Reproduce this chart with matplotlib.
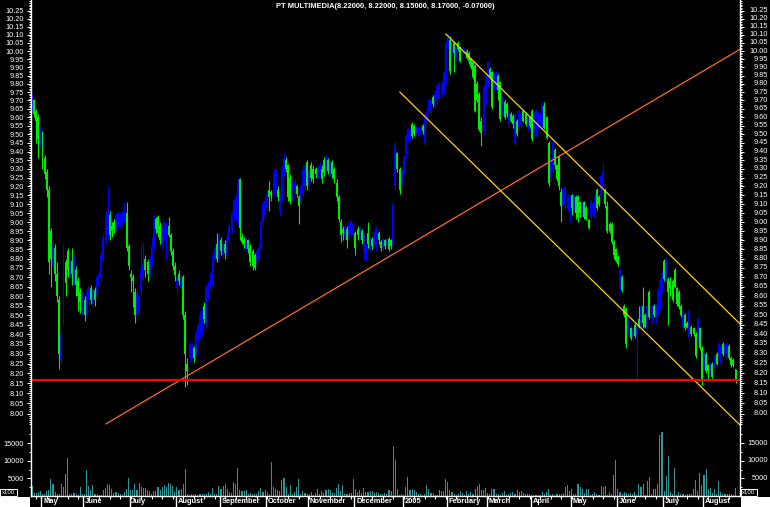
import matplotlib
matplotlib.use("Agg")
import matplotlib.pyplot as plt
from matplotlib.patches import Rectangle
from matplotlib.ticker import FixedLocator, NullFormatter, FuncFormatter
import numpy as np

# daily OHLC, May 2004 - Aug 2005
opens = [
    9.66, 9.70, 9.64, 9.60, 9.44, 9.50, 9.36, 9.28, 9.18, 8.95,
    8.76, 8.86, 8.72, 8.58, 8.27, 8.50, 8.78, 8.84, 8.72, 8.79,
    8.68, 8.74, 8.68, 8.62, 8.52, 8.58, 8.50, 8.58, 8.64, 8.56,
    8.63, 8.60, 8.66, 8.70, 8.80, 8.90, 8.95, 9.04, 8.98, 9.00,
    8.97, 9.00, 9.00, 9.00, 9.01, 9.05, 8.87, 8.72, 8.70, 8.62,
    8.50, 8.52, 8.62, 8.70, 8.80, 8.78, 8.72, 8.78, 8.87, 9.02,
    9.03, 8.98, 8.88, 8.92, 8.92, 8.98, 8.93, 8.84, 8.76, 8.64,
    8.72, 8.64, 8.70, 8.50, 8.25, 8.28, 8.30, 8.33, 8.30, 8.38,
    8.40, 8.42, 8.55, 8.46, 8.60, 8.64, 8.66, 8.80, 8.88, 8.80,
    8.90, 8.82, 8.88, 8.82, 8.90, 8.96, 9.04, 9.08, 9.00, 9.24,
    8.92, 8.90, 8.86, 8.90, 8.86, 8.84, 8.82, 8.77, 8.80, 8.85,
    9.00, 9.04, 9.08, 9.18, 9.17, 9.16, 9.20, 9.18, 9.06, 9.14,
    9.28, 9.35, 9.32, 9.25, 9.14, 9.18, 9.20, 9.14, 9.12, 9.16,
    9.20, 9.34, 9.20, 9.32, 9.30, 9.30, 9.26, 9.28, 9.30, 9.35,
    9.30, 9.35, 9.28, 9.34, 9.30, 9.22, 9.14, 9.00, 8.96, 8.92,
    8.96, 8.92, 8.94, 8.93, 8.94, 8.96, 8.93, 8.95, 8.84, 8.82,
    8.94, 8.86, 8.91, 8.90, 8.86, 8.94, 8.89, 8.86, 8.90, 8.87,
    8.91, 8.90, 8.87, 9.20, 9.39, 9.30, 9.22, 9.29, 9.39, 9.48,
    9.48, 9.56, 9.55, 9.51, 9.51, 9.51, 9.55, 9.45, 9.58, 9.64,
    9.64, 9.72, 9.67, 9.70, 9.72, 9.74, 9.76, 9.82, 10.05, 10.07,
    9.99, 10.05, 9.96, 10.05, 10.02, 9.99, 9.98, 10.00, 9.99, 9.95,
    9.93, 9.91, 9.80, 9.74, 9.58, 9.52, 9.70, 9.80, 9.89, 9.87,
    9.78, 9.78, 9.85, 9.81, 9.63, 9.69, 9.68, 9.56, 9.62, 9.61,
    9.45, 9.58, 9.54, 9.55, 9.64, 9.62, 9.54, 9.60, 9.64, 9.51,
    9.51, 9.56, 9.56, 9.55, 9.67, 9.60, 9.45, 9.25, 9.29, 9.41,
    9.32, 9.37, 9.17, 9.09, 9.09, 9.08, 9.07, 9.15, 9.08, 9.14,
    9.14, 9.11, 9.05, 9.11, 9.08, 9.01, 9.03, 9.05, 9.03, 9.18,
    9.14, 9.15, 9.18, 9.18, 9.09, 8.99, 8.99, 8.89, 8.85, 8.81,
    8.64, 8.70, 8.55, 8.53, 8.41, 8.43, 8.38, 8.45, 8.39, 8.48,
    8.44, 8.55, 8.50, 8.44, 8.62, 8.48, 8.55, 8.48, 8.52, 8.55,
    8.64, 8.79, 8.70, 8.69, 8.68, 8.68, 8.74, 8.64, 8.62, 8.55,
    8.43, 8.50, 8.46, 8.38, 8.44, 8.43, 8.40, 8.38, 8.43, 8.33,
    8.24, 8.30, 8.24, 8.21, 8.25, 8.23, 8.30, 8.29, 8.25, 8.35,
    8.30, 8.29, 8.34, 8.28, 8.27, 8.22,
]
highs = [
    9.74, 9.71, 9.65, 9.62, 9.55, 9.52, 9.38, 9.30, 9.20, 8.97,
    8.90, 8.88, 8.78, 8.60, 8.42, 8.88, 8.80, 8.86, 8.80, 8.86,
    8.82, 8.76, 8.70, 8.64, 8.62, 8.60, 8.64, 8.66, 8.66, 8.64,
    8.65, 8.71, 8.74, 8.84, 8.94, 9.06, 9.20, 9.06, 9.00, 9.02,
    9.05, 9.06, 9.05, 9.06, 9.11, 9.11, 8.88, 8.74, 8.72, 8.64,
    8.64, 8.62, 8.88, 8.89, 8.82, 8.80, 8.82, 8.92, 9.04, 9.03,
    9.04, 9.00, 8.98, 9.01, 9.00, 9.03, 8.94, 8.86, 8.78, 8.71,
    8.74, 8.72, 8.71, 8.52, 8.28, 8.36, 8.35, 8.34, 8.42, 8.46,
    8.52, 8.54, 8.57, 8.66, 8.68, 8.74, 8.84, 8.88, 8.94, 8.94,
    8.92, 8.90, 8.90, 8.94, 9.00, 9.06, 9.13, 9.16, 9.25, 9.25,
    8.94, 8.92, 8.92, 8.91, 8.88, 8.85, 8.83, 8.86, 8.88, 9.02,
    9.12, 9.14, 9.18, 9.23, 9.18, 9.30, 9.30, 9.20, 9.16, 9.32,
    9.39, 9.37, 9.33, 9.27, 9.24, 9.24, 9.21, 9.15, 9.22, 9.32,
    9.34, 9.35, 9.30, 9.34, 9.32, 9.31, 9.32, 9.34, 9.32, 9.37,
    9.38, 9.36, 9.34, 9.35, 9.31, 9.24, 9.15, 9.02, 8.98, 9.00,
    8.98, 9.01, 9.02, 9.00, 8.95, 8.98, 8.98, 8.96, 8.94, 8.88,
    9.00, 8.92, 8.92, 8.95, 8.98, 8.95, 8.90, 8.92, 8.91, 8.92,
    8.92, 8.91, 9.12, 9.46, 9.40, 9.31, 9.30, 9.38, 9.50, 9.54,
    9.54, 9.57, 9.56, 9.55, 9.55, 9.56, 9.56, 9.63, 9.66, 9.71,
    9.71, 9.73, 9.76, 9.80, 9.81, 9.82, 9.88, 10.06, 10.11, 10.09,
    10.03, 10.06, 10.03, 10.06, 10.03, 10.03, 10.02, 10.01, 10.00, 9.96,
    9.94, 9.92, 9.82, 9.75, 9.60, 9.79, 9.86, 9.94, 9.90, 9.88,
    9.88, 9.88, 9.86, 9.82, 9.73, 9.70, 9.69, 9.65, 9.63, 9.62,
    9.63, 9.59, 9.65, 9.64, 9.65, 9.63, 9.61, 9.61, 9.65, 9.63,
    9.65, 9.63, 9.63, 9.69, 9.69, 9.61, 9.46, 9.36, 9.47, 9.42,
    9.33, 9.38, 9.19, 9.20, 9.20, 9.16, 9.15, 9.16, 9.16, 9.15,
    9.15, 9.12, 9.12, 9.12, 9.09, 9.02, 9.13, 9.12, 9.16, 9.19,
    9.15, 9.27, 9.34, 9.19, 9.12, 9.00, 9.00, 8.90, 8.86, 8.82,
    8.75, 8.71, 8.56, 8.54, 8.48, 8.44, 8.44, 8.46, 8.46, 8.55,
    8.56, 8.65, 8.51, 8.56, 8.63, 8.56, 8.56, 8.56, 8.64, 8.69,
    8.74, 8.80, 8.81, 8.70, 8.70, 8.69, 8.75, 8.65, 8.63, 8.56,
    8.53, 8.51, 8.47, 8.53, 8.45, 8.44, 8.41, 8.49, 8.44, 8.34,
    8.31, 8.31, 8.25, 8.26, 8.26, 8.30, 8.31, 8.36, 8.35, 8.36,
    8.36, 8.36, 8.35, 8.29, 8.28, 8.22,
]
lows = [
    9.64, 9.60, 9.45, 9.36, 9.42, 9.30, 9.24, 9.14, 8.72, 8.65,
    8.74, 8.68, 8.57, 8.22, 8.25, 8.45, 8.60, 8.70, 8.70, 8.66,
    8.66, 8.60, 8.52, 8.51, 8.50, 8.47, 8.48, 8.55, 8.56, 8.54,
    8.55, 8.58, 8.64, 8.68, 8.78, 8.88, 8.92, 8.90, 8.92, 8.94,
    8.95, 8.98, 8.97, 8.99, 9.00, 8.84, 8.74, 8.62, 8.54, 8.46,
    8.47, 8.50, 8.60, 8.68, 8.70, 8.68, 8.70, 8.76, 8.85, 8.94,
    8.92, 8.88, 8.86, 8.90, 8.80, 8.92, 8.82, 8.74, 8.68, 8.62,
    8.66, 8.62, 8.48, 8.13, 8.14, 8.26, 8.28, 8.26, 8.29, 8.36,
    8.38, 8.40, 8.46, 8.44, 8.58, 8.62, 8.64, 8.78, 8.78, 8.78,
    8.82, 8.80, 8.80, 8.80, 8.88, 8.94, 9.02, 9.00, 8.98, 8.90,
    8.88, 8.86, 8.84, 8.83, 8.76, 8.74, 8.74, 8.75, 8.78, 8.84,
    8.98, 9.02, 9.06, 9.06, 9.12, 9.14, 9.18, 9.12, 9.04, 9.12,
    9.26, 9.28, 9.12, 9.10, 9.12, 9.16, 9.14, 8.99, 9.10, 9.14,
    9.18, 9.18, 9.18, 9.23, 9.22, 9.25, 9.24, 9.26, 9.22, 9.26,
    9.28, 9.27, 9.26, 9.25, 9.22, 9.12, 9.00, 8.89, 8.90, 8.90,
    8.86, 8.90, 8.92, 8.91, 8.82, 8.90, 8.91, 8.88, 8.80, 8.79,
    8.86, 8.84, 8.85, 8.88, 8.84, 8.88, 8.84, 8.84, 8.85, 8.85,
    8.84, 8.85, 8.86, 9.18, 9.28, 9.16, 9.20, 9.27, 9.37, 9.46,
    9.46, 9.48, 9.49, 9.50, 9.49, 9.50, 9.50, 9.44, 9.56, 9.62,
    9.62, 9.66, 9.65, 9.68, 9.70, 9.72, 9.74, 9.80, 10.02, 9.86,
    9.97, 9.87, 9.94, 10.00, 9.93, 9.97, 9.96, 9.95, 9.92, 9.89,
    9.83, 9.63, 9.69, 9.52, 9.43, 9.50, 9.68, 9.78, 9.83, 9.65,
    9.76, 9.76, 9.70, 9.58, 9.61, 9.59, 9.60, 9.54, 9.57, 9.54,
    9.44, 9.49, 9.52, 9.53, 9.57, 9.55, 9.52, 9.54, 9.46, 9.49,
    9.49, 9.54, 9.54, 9.53, 9.53, 9.47, 9.20, 9.23, 9.27, 9.30,
    9.23, 9.18, 9.00, 9.07, 9.07, 9.06, 9.00, 9.04, 9.06, 9.02,
    9.00, 9.03, 9.03, 9.02, 9.01, 8.96, 9.01, 9.03, 9.01, 9.07,
    9.09, 9.13, 9.16, 9.08, 8.94, 8.94, 8.88, 8.80, 8.78, 8.76,
    8.62, 8.62, 8.49, 8.33, 8.39, 8.37, 8.36, 8.38, 8.16, 8.43,
    8.42, 8.43, 8.43, 8.42, 8.48, 8.46, 8.49, 8.46, 8.50, 8.53,
    8.62, 8.68, 8.68, 8.45, 8.60, 8.57, 8.64, 8.55, 8.53, 8.49,
    8.41, 8.42, 8.43, 8.36, 8.39, 8.39, 8.28, 8.36, 8.32, 8.14,
    8.22, 8.20, 8.16, 8.19, 8.17, 8.21, 8.24, 8.27, 8.23, 8.29,
    8.28, 8.27, 8.27, 8.23, 8.23, 8.15,
]
closes = [
    9.72, 9.62, 9.58, 9.47, 9.49, 9.36, 9.27, 9.18, 8.78, 8.80,
    8.88, 8.72, 8.60, 8.30, 8.40, 8.86, 8.67, 8.74, 8.76, 8.72,
    8.74, 8.66, 8.60, 8.57, 8.60, 8.50, 8.62, 8.65, 8.58, 8.63,
    8.58, 8.70, 8.72, 8.82, 8.92, 9.04, 9.05, 8.93, 8.95, 8.96,
    9.04, 9.04, 9.04, 9.03, 9.05, 8.86, 8.76, 8.70, 8.68, 8.50,
    8.62, 8.60, 8.74, 8.77, 8.74, 8.72, 8.79, 8.87, 9.02, 8.96,
    8.94, 8.90, 8.96, 9.00, 8.98, 8.93, 8.84, 8.76, 8.71, 8.70,
    8.68, 8.70, 8.50, 8.30, 8.21, 8.35, 8.34, 8.28, 8.40, 8.45,
    8.50, 8.52, 8.48, 8.64, 8.66, 8.72, 8.82, 8.86, 8.80, 8.92,
    8.84, 8.88, 8.83, 8.92, 8.98, 9.05, 9.12, 9.14, 9.22, 8.97,
    8.89, 8.88, 8.91, 8.85, 8.78, 8.76, 8.75, 8.84, 8.86, 9.00,
    9.10, 9.12, 9.16, 9.14, 9.15, 9.28, 9.29, 9.14, 9.14, 9.30,
    9.36, 9.30, 9.14, 9.12, 9.22, 9.22, 9.16, 9.09, 9.20, 9.30,
    9.32, 9.20, 9.28, 9.25, 9.24, 9.27, 9.30, 9.32, 9.24, 9.28,
    9.37, 9.29, 9.33, 9.27, 9.24, 9.14, 9.02, 8.93, 8.94, 8.98,
    8.90, 8.99, 9.00, 8.99, 8.86, 8.93, 8.96, 8.90, 8.93, 8.86,
    8.88, 8.90, 8.87, 8.94, 8.96, 8.90, 8.86, 8.91, 8.87, 8.91,
    8.85, 8.87, 9.10, 9.44, 9.30, 9.18, 9.28, 9.37, 9.49, 9.53,
    9.53, 9.49, 9.50, 9.54, 9.54, 9.54, 9.52, 9.62, 9.64, 9.70,
    9.70, 9.68, 9.74, 9.79, 9.80, 9.80, 9.87, 10.05, 10.10, 9.88,
    10.02, 9.99, 10.02, 10.01, 9.94, 10.02, 10.01, 9.96, 9.94, 9.90,
    9.84, 9.64, 9.70, 9.53, 9.51, 9.78, 9.85, 9.93, 9.84, 9.66,
    9.87, 9.86, 9.76, 9.59, 9.72, 9.60, 9.62, 9.64, 9.58, 9.56,
    9.62, 9.50, 9.64, 9.62, 9.58, 9.56, 9.60, 9.55, 9.47, 9.62,
    9.64, 9.62, 9.61, 9.67, 9.54, 9.48, 9.22, 9.35, 9.46, 9.32,
    9.24, 9.20, 9.09, 9.18, 9.19, 9.14, 9.14, 9.08, 9.15, 9.05,
    9.03, 9.05, 9.10, 9.03, 9.02, 8.97, 9.12, 9.10, 9.15, 9.08,
    9.10, 9.26, 9.29, 9.10, 8.95, 8.95, 8.89, 8.82, 8.79, 8.77,
    8.74, 8.63, 8.50, 8.35, 8.47, 8.38, 8.43, 8.39, 8.45, 8.44,
    8.55, 8.46, 8.44, 8.55, 8.49, 8.55, 8.50, 8.55, 8.63, 8.68,
    8.73, 8.69, 8.80, 8.62, 8.64, 8.58, 8.65, 8.56, 8.54, 8.50,
    8.52, 8.43, 8.44, 8.52, 8.40, 8.40, 8.29, 8.48, 8.33, 8.17,
    8.30, 8.21, 8.21, 8.25, 8.18, 8.29, 8.25, 8.35, 8.34, 8.30,
    8.35, 8.35, 8.28, 8.24, 8.24, 8.17,
]
volumes = [
    2850, 850, 850, 1140, 1420, 660, 475, 1330, 1600, 4750,
    3300, 1140, 660, 660, 3300, 2560, 6150, 10700, 660, 660,
    950, 660, 380, 2560, 660, 475, 7300, 2850, 1600, 3040,
    475, 475, 190, 190, 1800, 2280, 3500, 3040, 2090, 850,
    1140, 850, 660, 380, 1140, 1900, 5030, 1600, 1800, 3500,
    1800, 3700, 2560, 2370, 2280, 1600, 1330, 660, 1420, 1330,
    2560, 1600, 2560, 3040, 2560, 3700, 3500, 2850, 1140, 2560,
    1600, 1900, 3500, 7700, 660, 190, 475, 660, 475, 190,
    660, 475, 660, 475, 1140, 660, 2280, 660, 660, 2750,
    2090, 2750, 3300, 2090, 1140, 850, 4000, 3500, 8000, 1600,
    1420, 1330, 1600, 660, 950, 475, 475, 660, 1500, 2180,
    1000, 1600, 1140, 660, 9600, 2560, 1900, 1600, 1420, 4460,
    5130, 2560, 660, 3040, 660, 1140, 2560, 4750, 660, 1420,
    850, 660, 475, 1140, 380, 850, 1900, 660, 1420, 850,
    1600, 1900, 1600, 850, 850, 2370, 3500, 1330, 3230, 660,
    660, 850, 850, 4750, 2090, 1140, 1600, 950, 2280, 1140,
    1140, 1420, 1330, 850, 1140, 850, 660, 475, 850, 660,
    1600, 1420, 14150, 10150, 1900, 400, 660, 400, 2560, 5400,
    1600, 1900, 1600, 1140, 660, 475, 190, 475, 3040, 2090,
    950, 850, 380, 300, 1600, 1420, 1420, 4750, 4000, 1600,
    1140, 475, 190, 475, 1330, 850, 190, 1330, 660, 1140,
    660, 1900, 2750, 3500, 1600, 1600, 2370, 850, 475, 1900,
    2090, 660, 475, 190, 850, 1330, 190, 660, 850, 1140,
    475, 1600, 1140, 1330, 850, 660, 475, 475, 190, 150,
    150, 150, 150, 1140, 475, 1140, 2090, 300, 475, 380,
    475, 475, 475, 850, 2560, 3040, 1330, 1900, 660, 475,
    3300, 2560, 2090, 850, 2090, 1900, 380, 475, 1140, 660,
    300, 2750, 2560, 2850, 300, 1140, 475, 5900, 10150, 2090,
    1140, 475, 1140, 850, 475, 850, 475, 1140, 300, 3300,
    2560, 3500, 380, 4250, 5400, 475, 2090, 1900, 3300, 17200,
    18100, 1420, 5600, 11300, 1140, 475, 8075, 380, 1140, 660,
    475, 190, 475, 475, 660, 1900, 4460, 1330, 6650, 3040,
    5900, 7800, 2090, 2280, 850, 2090, 660, 4180, 1140, 660,
    660, 475, 475, 660, 300, 2370,
]

month_labels = ["May", "June", "July", "August", "September", "October",
                "November", "December", "2005", "February", "March",
                "April", "May", "June", "July", "August"]
month_starts = [5, 25, 47, 69, 90, 112, 132, 154, 177, 198, 217, 238,
                257, 279, 301, 320]

support_level = 8.165
uptrend_x = [35.2, 337.1]
uptrend_y = [7.949, 10.01]
channel_top_x = [197.1, 337.1]
channel_top_y = [10.105, 8.454]
channel_bottom_x = [175.2, 337.1]
channel_bottom_y = [9.75, 7.944]

title = "PT MULTIMEDIA(8.22000, 8.22000, 8.15000, 8.17000, -0.07000)"

BLUE = "#0000ff"
GREEN = "#00ee00"
W, H = 770, 507

plt.rcParams["font.family"] = ["Liberation Sans", "DejaVu Sans"]

fig = plt.figure(figsize=(W / 100, H / 100), dpi=100, facecolor="black")
ax = fig.add_axes([31 / W, 1 - 428 / H, 709 / W, 428 / H], facecolor="black")
axv = fig.add_axes([31 / W, 11 / H, 709 / W, 68 / H], facecolor="black")

o = np.array(opens)
c = np.array(closes)
x = np.arange(len(c))
colors = np.where(c >= o, BLUE, GREEN)

ax.set_yscale("log")
ax.vlines(x, lows, highs, colors=colors, lw=0.8)
ax.bar(x, np.maximum(np.abs(c - o), 0.006), bottom=np.minimum(o, c),
       width=0.9, color=colors, linewidth=0, antialiased=False)

ax.plot(uptrend_x, uptrend_y, color="#ff6a2a", lw=0.9)
ax.plot(channel_top_x, channel_top_y, color="#ffd400", lw=0.9)
ax.plot(channel_bottom_x, channel_bottom_y, color="#ffd400", lw=0.9)
ax.axhline(support_level, color="#ff0000", lw=1.6)

xlim = (-0.476, 337.14)
ax.set_xlim(*xlim)
ax.set_ylim(7.929, 10.319)

price_ticks = np.round(np.arange(8.00, 10.26, 0.05), 2)
ax.yaxis.set_major_locator(FixedLocator(price_ticks))
ax.yaxis.set_minor_locator(FixedLocator(np.arange(7.95, 10.31, 0.01)))
ax.yaxis.set_major_formatter(FuncFormatter(lambda v, _: f"{v:.2f}"))
ax.yaxis.set_minor_formatter(NullFormatter())
ax.tick_params(axis="y", which="both", left=True, right=True, colors="white",
               direction="out", width=0.7, labelsize=5.3, labelright=False)
ax.tick_params(axis="y", which="major", length=3, pad=2)
ax.tick_params(axis="y", which="minor", length=1.3)
ax.tick_params(axis="x", bottom=False, labelbottom=False)
for v in price_ticks:
    ax.text(1.0395, v, f"{v:.2f}", transform=ax.get_yaxis_transform(),
            ha="right", va="center", color="white", fontsize=5.3)
for side in ["top", "bottom"]:
    ax.spines[side].set_visible(False)
for side in ["left", "right"]:
    ax.spines[side].set_color("white")
    ax.spines[side].set_linewidth(1)

# volume pane
axv.bar(x, volumes, width=0.5, color="#309595", linewidth=0, antialiased=False)
axv.set_xlim(*xlim)
axv.set_ylim(0, 19300)
vol_ticks = [5000, 10000, 15000]
axv.yaxis.set_major_locator(FixedLocator(vol_ticks))
axv.yaxis.set_minor_locator(FixedLocator(np.arange(2500, 19000, 2500)))
axv.yaxis.set_minor_formatter(NullFormatter())
axv.tick_params(axis="y", which="both", left=True, right=True, colors="white",
                direction="out", width=0.7, labelsize=5.3, labelright=False)
axv.tick_params(axis="y", which="major", length=3, pad=2)
axv.tick_params(axis="y", which="minor", length=1.3)
for v in vol_ticks:
    axv.text(1.0395, v, str(v), transform=axv.get_yaxis_transform(),
             ha="right", va="center", color="white", fontsize=5.3)

seps = [s - 0.5 for s in month_starts]
axv.xaxis.set_major_locator(FixedLocator(seps))
axv.xaxis.set_minor_locator(FixedLocator(np.arange(2, len(c), 5)))
axv.tick_params(axis="x", which="major", direction="out", length=8,
                width=1, colors="white", labelbottom=False)
axv.tick_params(axis="x", which="minor", direction="out", length=2,
                width=0.8, colors="white")
for s, lbl in zip(seps, month_labels):
    axv.annotate(lbl, xy=(s, 0), xycoords=("data", "axes fraction"),
                 xytext=(1.2, -4.3), textcoords="offset points",
                 ha="left", va="center", color="white", fontsize=5.4,
                 fontweight="bold")
axv.spines["top"].set_visible(False)
for side in ["left", "right", "bottom"]:
    axv.spines[side].set_color("white")
    axv.spines[side].set_linewidth(1)

# corner boxes
fig.patches.append(Rectangle((0, 0), 30 / W, 10.5 / H, transform=fig.transFigure,
                             facecolor="white", edgecolor="none"))
fig.patches.append(Rectangle((741 / W, 0), 29 / W, 10.5 / H, transform=fig.transFigure,
                             facecolor="white", edgecolor="none"))
for xp in [8.5, 749]:
    fig.text(xp / W, 1 - 492.5 / H, "x100", color="white", fontsize=4.3,
             ha="center", va="center",
             bbox=dict(boxstyle="square,pad=0.25", facecolor="black",
                       edgecolor="white", lw=0.7))

fig.text(385 / W, 1 - 6.5 / H, title, ha="center", va="center",
         color="white", fontsize=5.4, fontweight="bold")

fig.savefig("out.png", dpi=100, facecolor="black")
